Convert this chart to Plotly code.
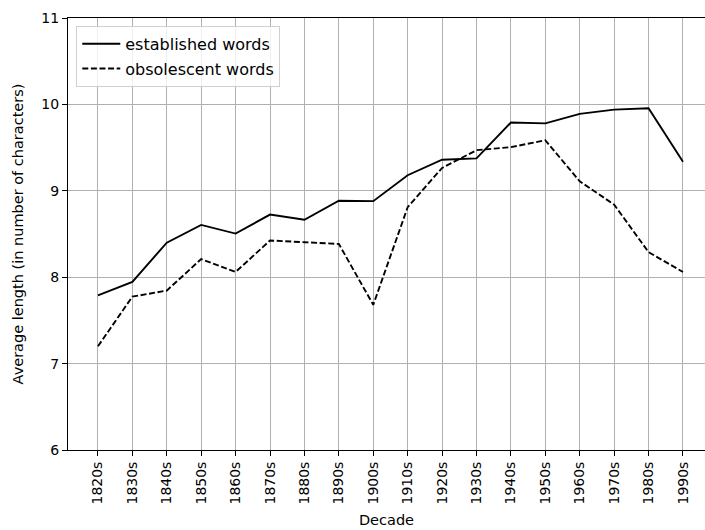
import plotly.graph_objects as go

decades = ["1820s", "1830s", "1840s", "1850s", "1860s", "1870s", "1880s", "1890s", "1900s",
           "1910s", "1920s", "1930s", "1940s", "1950s", "1960s", "1970s", "1980s", "1990s"]
established = [7.79, 7.945, 8.40, 8.605, 8.505, 8.725, 8.665, 8.885, 8.88,
               9.18, 9.36, 9.375, 9.79, 9.78, 9.89, 9.94, 9.955, 9.335]
obsolescent = [7.20, 7.775, 7.845, 8.21, 8.06, 8.425, 8.405, 8.385, 7.68,
               8.81, 9.265, 9.47, 9.505, 9.585, 9.11, 8.84, 8.29, 8.06]
y_ticks = [6, 7, 8, 9, 10, 11]

x_idx = list(range(len(decades)))
font = "DejaVu Sans, Liberation Sans, sans-serif"

fig = go.Figure()
fig.add_trace(go.Scatter(
    x=x_idx, y=established, mode="lines", name="established words",
    legendgroup="a",
    line=dict(color="black", width=1.9),
))
fig.add_trace(go.Scatter(
    x=x_idx, y=obsolescent, mode="lines", name="obsolescent words",
    legendgroup="b",
    line=dict(color="black", width=1.9, dash="6px,2.6px"),
))

fig.update_layout(
    width=705, height=530,
    margin=dict(l=68, r=0, t=18, b=80),
    paper_bgcolor="white", plot_bgcolor="white",
    font=dict(family=font, size=14, color="black"),
    showlegend=True,
    legend=dict(
        x=0.013, y=0.982, xanchor="left", yanchor="top",
        bgcolor="rgba(255,255,255,0.8)", bordercolor="#d0d0d0", borderwidth=1,
        font=dict(size=16), tracegroupgap=1, itemwidth=38,
    ),
)

fig.update_xaxes(
    range=[-0.87, 17.64],
    tickmode="array", tickvals=x_idx, ticktext=decades, tickangle=-90,
    showgrid=True, gridcolor="#b0b0b0", gridwidth=1,
    showline=True, linecolor="black", linewidth=1, mirror=True,
    ticks="outside", ticklen=5, tickcolor="black",
    tickfont=dict(size=14),
    title=dict(text="Decade", font=dict(size=14.5), standoff=11),
    zeroline=False,
)
fig.update_yaxes(
    range=[6, 11],
    tickmode="array", tickvals=y_ticks,
    showgrid=True, gridcolor="#b0b0b0", gridwidth=1,
    showline=True, linecolor="black", linewidth=1,
    ticks="outside", ticklen=5, tickcolor="black",
    tickfont=dict(size=14),
    title=dict(text="Average length (in number of characters)", font=dict(size=14.5), standoff=14),
    zeroline=False,
)

fig.write_html("out.html")
